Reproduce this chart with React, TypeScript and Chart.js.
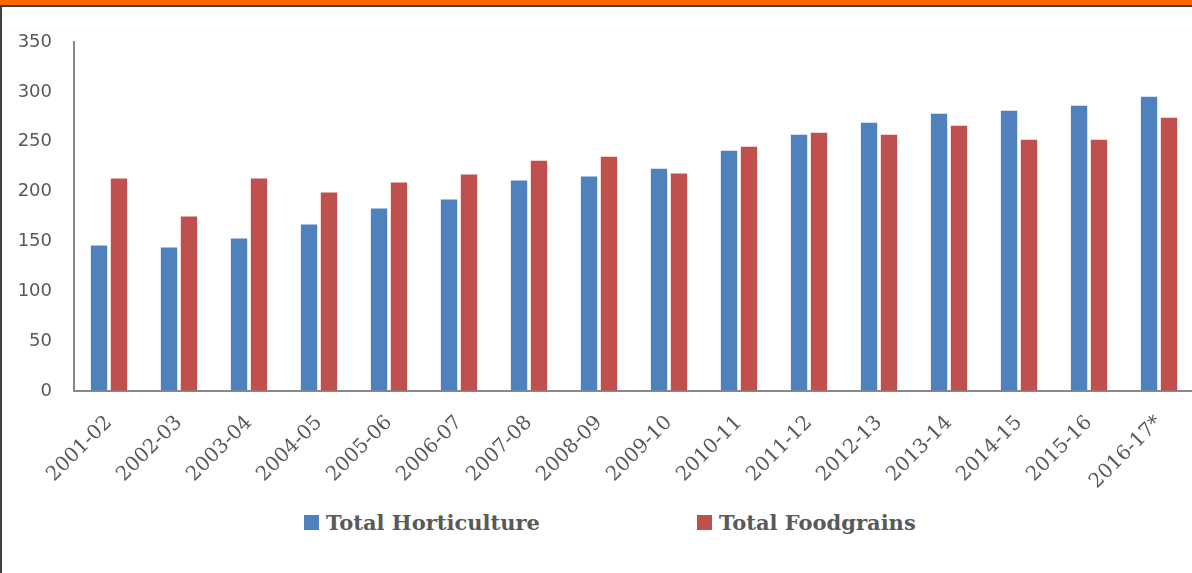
import React, { useEffect, useRef } from "react";
import { Chart, registerables } from "chart.js";

Chart.register(...registerables);

const categories = [
  "2001-02", "2002-03", "2003-04", "2004-05", "2005-06", "2006-07", "2007-08", "2008-09",
  "2009-10", "2010-11", "2011-12", "2012-13", "2013-14", "2014-15", "2015-16", "2016-17*",
];
const horticulture = [146, 144, 153, 167, 183, 192, 211, 215, 223, 241, 257, 269, 278, 281, 286, 295];
const foodgrains = [213, 175, 213, 199, 209, 217, 231, 235, 218, 245, 259, 257, 266, 252, 252, 274];
const seriesNames = ["Total Horticulture", "Total Foodgrains"];
const seriesColors = ["#4F81BD", "#C0504D"];
const yMin = 0;
const yMax = 350;
const yStep = 50;

export default function App() {
  const canvasRef = useRef<HTMLCanvasElement | null>(null);

  useEffect(() => {
    const canvas = canvasRef.current;
    if (!canvas) return;
    const chart = new Chart(canvas, {
      type: "bar",
      data: {
        labels: categories,
        datasets: [
          {
            label: seriesNames[0],
            data: horticulture,
            backgroundColor: seriesColors[0],
            categoryPercentage: 0.57,
            barPercentage: 0.82,
          },
          {
            label: seriesNames[1],
            data: foodgrains,
            backgroundColor: seriesColors[1],
            categoryPercentage: 0.57,
            barPercentage: 0.82,
          },
        ],
      },
      options: {
        animation: false,
        responsive: false,
        maintainAspectRatio: false,
        layout: { padding: { top: 42, left: 0, right: 0, bottom: 0 } },
        plugins: {
          legend: { display: false },
          tooltip: { enabled: false },
        },
        scales: {
          x: {
            offset: true,
            grid: { display: true, drawOnChartArea: false, drawTicks: false },
            border: { display: true, color: "#888888", width: 2 },
            ticks: {
              autoSkip: false,
              minRotation: 45,
              maxRotation: 45,
              padding: 20,
              color: "#595959",
              font: { family: "DejaVu Serif", size: 20 },
            },
            afterFit: (scale: any) => {
              scale.height = 500 - 391;
            },
          },
          y: {
            min: yMin,
            max: yMax,
            grid: { display: true, drawOnChartArea: false, drawTicks: false },
            border: { display: true, color: "#888888", width: 2 },
            ticks: {
              stepSize: yStep,
              padding: 22,
              color: "#595959",
              font: { family: "DejaVu Sans", size: 18 },
            },
            afterFit: (scale: any) => {
              scale.width = 74;
            },
          },
        },
      },
    });
    return () => chart.destroy();
  }, []);

  const legendItem = (i: number, boxLeft: number) => (
    <div
      key={i}
      style={{
        position: "absolute",
        left: boxLeft,
        top: 510,
        display: "flex",
        alignItems: "center",
        height: 24,
      }}
    >
      <span
        style={{
          display: "inline-block",
          width: 15,
          height: 15,
          background: seriesColors[i],
          marginRight: 7,
        }}
      />
      <span
        style={{
          fontFamily: "DejaVu Serif",
          fontWeight: "bold",
          fontSize: 21,
          color: "#595959",
          whiteSpace: "nowrap",
        }}
      >
        {seriesNames[i]}
      </span>
    </div>
  );

  return (
    <div
      style={{
        position: "fixed",
        left: 0,
        top: 0,
        width: 1192,
        height: 573,
        overflow: "hidden",
        background: "#ffffff",
      }}
    >
      <div style={{ position: "absolute", left: 0, top: 0, width: 1196, height: 500 }}>
        <canvas ref={canvasRef} width={1196} height={500} style={{ display: "block" }} />
      </div>
      {legendItem(0, 304)}
      {legendItem(1, 697)}
      <div style={{ position: "absolute", left: 0, top: 0, width: 1192, height: 5, background: "#FF6600" }} />
      <div style={{ position: "absolute", left: 0, top: 5, width: 1192, height: 2, background: "#404040" }} />
      <div style={{ position: "absolute", left: 0, top: 5, width: 2, height: 568, background: "#404040" }} />
    </div>
  );
}
